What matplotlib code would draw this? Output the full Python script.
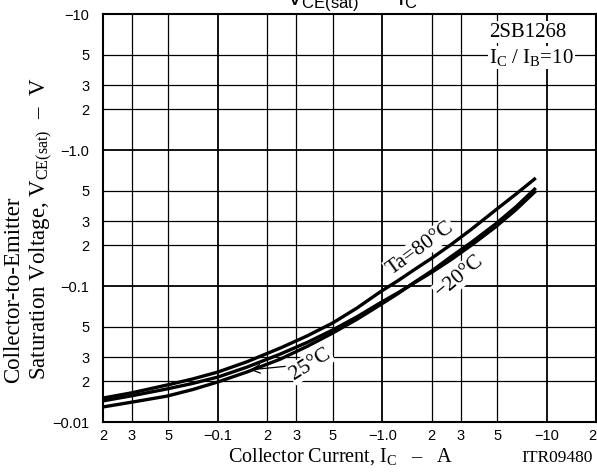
import matplotlib
matplotlib.use('Agg')
import matplotlib.pyplot as plt
from matplotlib.ticker import FixedLocator, FixedFormatter, NullLocator

plt.rcParams['font.family'] = 'Liberation Serif'
plt.rcParams['mathtext.fontset'] = 'custom'
plt.rcParams['mathtext.rm'] = 'Liberation Serif'
plt.rcParams['mathtext.it'] = 'Liberation Serif:italic'
plt.rcParams['mathtext.sf'] = 'Liberation Sans'

# collector current |Ic| (A) and saturation voltage |Vce(sat)| (V)
ic = [0.02, 0.03, 0.049, 0.07, 0.1, 0.15, 0.24, 0.35, 0.5, 0.7, 0.97, 1.25, 1.6, 2.0,
      2.6, 3.5, 4.9, 6.5, 8.6]
vce_80 = [0.0150, 0.0164, 0.0187, 0.0207, 0.0233, 0.0277, 0.0350, 0.0430, 0.0535, 0.0687,
          0.0903, 0.1096, 0.134, 0.160, 0.200, 0.262, 0.362, 0.473, 0.622]
vce_m20 = [0.0143, 0.0156, 0.0175, 0.0192, 0.0214, 0.0253, 0.0316, 0.0385, 0.0475, 0.0592,
           0.0750, 0.0893, 0.107, 0.126, 0.155, 0.200, 0.272, 0.363, 0.500]
vce_25 = [0.0129, 0.0140, 0.0155, 0.0173, 0.0197, 0.0233, 0.0290, 0.0360, 0.0451, 0.0568,
          0.0725, 0.0881, 0.108, 0.129, 0.163, 0.210, 0.286, 0.381, 0.525]

x_ticks = [0.02, 0.03, 0.05, 0.1, 0.2, 0.3, 0.5, 1, 2, 3, 5, 10, 20]
x_labels = ['2', '3', '5', '\u22120.1', '2', '3', '5', '\u22121.0', '2', '3', '5', '\u221210', '2']
y_ticks = [0.01, 0.02, 0.03, 0.05, 0.1, 0.2, 0.3, 0.5, 1, 2, 3, 5, 10]
y_labels = ['\u22120.01', '2', '3', '5', '\u22120.1', '2', '3', '5', '\u22121.0', '2', '3', '5', '\u221210']
decades = [0.1, 1, 10]

W, H = 597, 473
fig = plt.figure(figsize=(W / 100, H / 100), dpi=100)
ax = fig.add_axes([103 / W, 1 - 422 / H, 493 / W, 408 / H])

ax.set_xscale('log')
ax.set_yscale('log')
ax.set_xlim(0.02, 20)
ax.set_ylim(0.01, 10)

# grid: only the 1-2-3-5 lines, decades a bit heavier
for xv in x_ticks[1:-1]:
    ax.axvline(xv, color='black', lw=1.3 if xv in decades else 0.9, zorder=1)
for yv in y_ticks[1:-1]:
    ax.axhline(yv, color='black', lw=1.3 if yv in decades else 0.9, zorder=1)

for v in (vce_80, vce_m20, vce_25):
    ax.plot(ic, v, color='black', lw=2.4, solid_capstyle='butt', zorder=3)

ax.xaxis.set_major_locator(FixedLocator(x_ticks))
ax.xaxis.set_major_formatter(FixedFormatter(x_labels))
ax.yaxis.set_major_locator(FixedLocator(y_ticks))
ax.yaxis.set_major_formatter(FixedFormatter(y_labels))
ax.xaxis.set_minor_locator(NullLocator())
ax.yaxis.set_minor_locator(NullLocator())
ax.tick_params(length=0, labelsize=10.5, pad=5)
ax.tick_params(axis='y', pad=10)
for t in ax.get_xticklabels() + ax.get_yticklabels():
    t.set_family('Liberation Sans')
ax.get_xticklabels()[-1].set_ha('right')
for s in ax.spines.values():
    s.set_linewidth(1.5)
    s.set_zorder(4)

box = dict(facecolor='white', edgecolor='none', pad=1)
ax.text(1.70, 0.190, 'Ta=80\u00b0C', fontsize=15.5, rotation=36, ha='center', va='center',
        bbox=box, zorder=2)
ax.text(2.98, 0.1184, '\u221220\u00b0C', fontsize=15.5, rotation=40, ha='center', va='center',
        bbox=box, zorder=2)
ax.annotate('25\u00b0C', xy=(0.157, 0.0242), xytext=(0.364, 0.0267), fontsize=15.5,
            rotation=32, ha='center', va='center', bbox=box, zorder=2,
            arrowprops=dict(arrowstyle='->', color='black', lw=0.9, shrinkA=0, shrinkB=0))

ax.text(0.783, 0.944, '2SB1268', transform=ax.transAxes, fontsize=15, ha='left',
        va='baseline', bbox=box, zorder=2)
ax.text(0.783, 0.880, 'I$_\\mathrm{C}$ / I$_\\mathrm{B}$=10', transform=ax.transAxes,
        fontsize=15, ha='left', va='baseline', bbox=box, zorder=2)

fig.text(340 / W, 1 - 462 / H, 'Collector Current, I$_\\mathrm{C}$   \u2013   A', fontsize=14.5,
         ha='center', va='baseline')
fig.text(593 / W, 1 - 462 / H, 'ITR09480', fontsize=12.5, ha='right', va='baseline')
fig.text(14 / W, 1 - 290 / H, 'Collector-to-Emitter', fontsize=16.5, rotation=90,
         ha='center', va='center')
fig.text(41 / W, 1 - 229 / H, 'Saturation Voltage, V$_\\mathrm{CE(sat)}$  \u2013  V',
         fontsize=16.5, rotation=90, ha='center', va='center')
fig.text(352 / W, 1 - 5 / H, 'V$_\\mathsf{CE(sat)}$  \u2013  I$_\\mathsf{C}$', fontsize=17,
         family='Liberation Sans', ha='center', va='baseline')

fig.savefig('out.png', dpi=100)
